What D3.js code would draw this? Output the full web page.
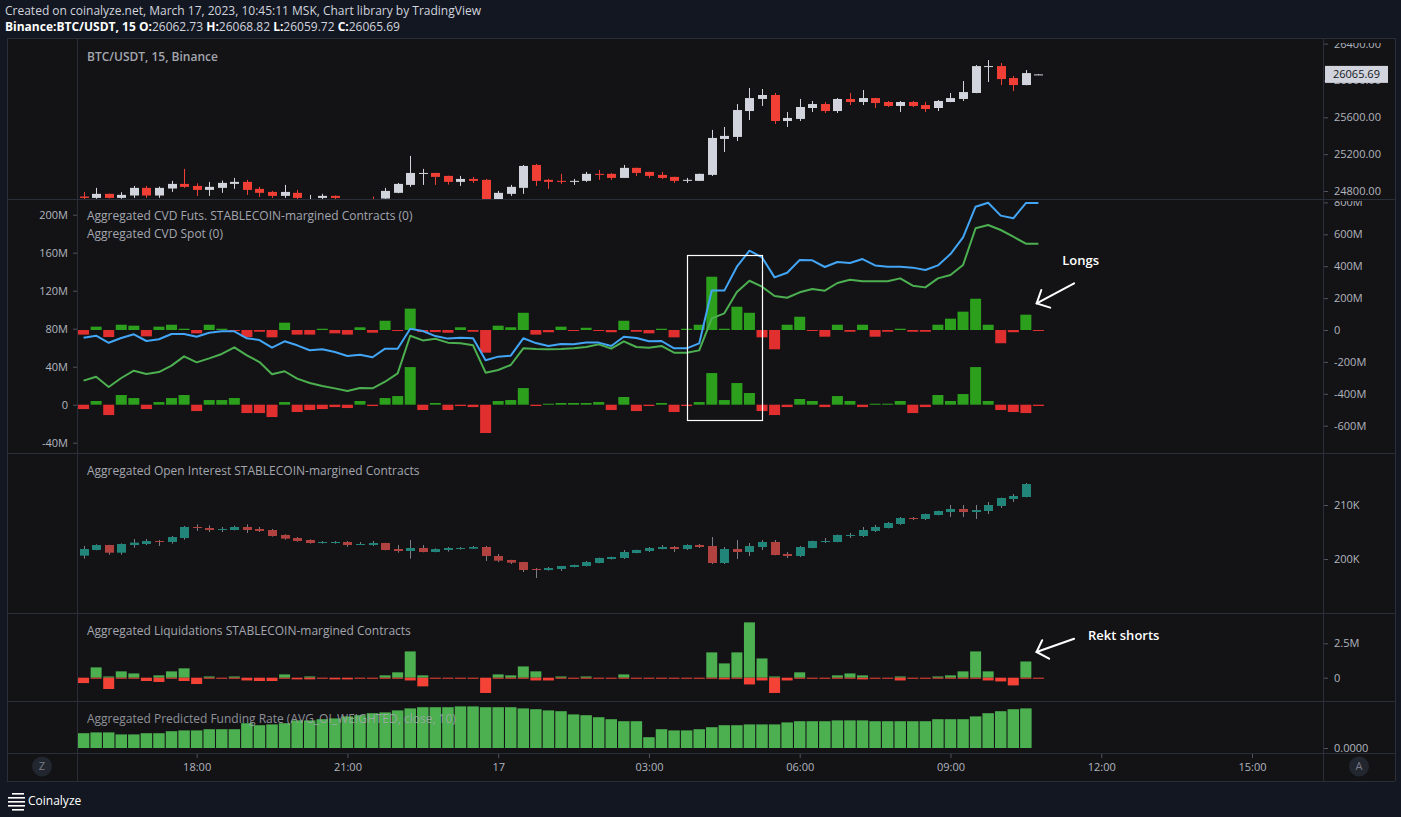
<!DOCTYPE html>
<html><head><meta charset="utf-8">
<script src="https://cdn.jsdelivr.net/npm/d3@7/dist/d3.min.js"></script>
<style>
html,body{margin:0;padding:0;background:#131722;overflow:hidden}
svg{display:block}
text{font-family:"Open Sans","Noto Sans",sans-serif}
</style></head><body>
<svg id="chart" width="1401" height="817"></svg>
<script>
// ---------- categories (15-minute bars, MSK shown as UTC) ----------
const START = Date.UTC(2023, 2, 16, 15, 45);
const STEP = 15 * 60 * 1000;
const times = d3.range(77).map(i => new Date(START + i * STEP));
const timeTicks = [
  Date.UTC(2023,2,16,18), Date.UTC(2023,2,16,21), Date.UTC(2023,2,17,0), Date.UTC(2023,2,17,3),
  Date.UTC(2023,2,17,6), Date.UTC(2023,2,17,9), Date.UTC(2023,2,17,12), Date.UTC(2023,2,17,15)
].map(d => new Date(d));
const timeTickLabels = ["18:00", "21:00", "17", "03:00", "06:00", "09:00", "12:00", "15:00"];

// ---------- BTC/USDT price candles ----------
const priceOpen = [24740,24725,24769,24725,24751,24834,24751,24827,24877,24855,24812,24834,24877,24899,24823,24790,24747,24780,24700,24725,24747,24712,24695,24712,24718,24780,24866,24989,24996,24964,24899,24931,24921,24705,24769,24834,25083,24921,24910,24899,24910,24986,24986,24942,25051,25007,24975,24953,24910,24910,24975,25365,25387,25668,25799,25842,25560,25582,25701,25744,25668,25799,25766,25809,25766,25723,25766,25733,25701,25766,25799,25864,26149,26156,26026,25950,26062.73];
const priceHigh = [24790,24834,24771,24787,24855,24855,24848,24910,25040,24884,24899,24913,24942,24921,24845,24801,24866,24812,24758,24769,24751,24714,24710,24740,24834,24888,25181,25040,24998,24966,24964,24953,24931,24801,24866,25083,25094,24931,24986,24931,25007,25029,24996,25083,25053,25009,25007,24955,24942,24988,25463,25495,25744,25918,25907,25864,25658,25799,25777,25766,25809,25864,25896,25811,25777,25777,25777,25766,25788,25864,25994,26167,26221,26189,26048,26113,26068.82];
const priceLow = [24707,24715,24718,24715,24725,24725,24725,24790,24834,24747,24747,24780,24823,24758,24736,24725,24725,24704,24690,24711,24711,24680,24675,24685,24712,24776,24845,24866,24866,24870,24855,24888,24680,24700,24747,24769,24855,24823,24877,24866,24899,24921,24921,24942,24964,24942,24931,24888,24888,24908,24964,25224,25343,25571,25723,25528,25495,25560,25658,25647,25647,25733,25733,25701,25712,25658,25712,25658,25668,25764,25777,25862,25983,25950,25885,25948,26059.72];
const priceClose = [24725,24769,24725,24758,24834,24751,24834,24877,24845,24812,24845,24888,24899,24812,24780,24747,24790,24725,24712,24747,24725,24695,24700,24698,24801,24877,24996,24996,24953,24899,24931,24910,24705,24780,24845,25072,24910,24899,24899,24910,24986,24975,24942,25051,24996,24964,24942,24910,24921,24986,25376,25398,25679,25809,25842,25560,25593,25712,25744,25668,25799,25766,25809,25755,25723,25766,25723,25690,25777,25809,25874,26156,26156,26015,25950,26080,26065.69];
const priceTicks = [24800, 25200, 25600, 26000, 26400];
const lastPrice = 26065.69;

// ---------- CVD (millions) ----------
const futDelta = [-29,21,-44,33,27,-40,21,33,8,-21,33,8,-6,-44,-11,-46,46,-29,-29,8,-21,-29,17,-17,58,-4,134,-13,-13,-17,17,-11,-142,27,17,108,-29,-14,21,-4,14,-4,-14,58,-11,-21,8,-46,8,33,334,8,146,108,-46,-121,33,83,-4,-42,33,-11,33,-42,-11,8,-11,-11,33,71,115,196,33,-83,-14,96,-4];
const spotDelta = [-4.6,3.9,-10.9,10.2,7,-4.6,2.8,7,10.2,-6.7,4.9,4.9,7,-8.8,-8.8,-13,2.8,-7.7,-5.6,-4.6,-2.5,-3.5,3.9,-1.4,7,9.1,39.6,-5.6,1.8,-5.6,-1.4,-2.5,-29.8,3.9,4.9,17.5,-1.4,0.7,1.8,1.8,1.8,2.8,-5.6,8.1,-6.7,-1.4,1.8,-7.7,-1.4,2.8,33.3,4.9,22.8,12.3,-6.7,-10.9,-2.5,6,3.9,-2.5,9.1,3.9,-2.5,0.7,0.7,3.9,-8.8,-2.5,10.2,3.9,11.2,39.6,3.9,-5.6,-7.7,-8.8,-1.4];
const futCVD = [-48,-36,-80,-50,-27,-69,-58,-25,-25,-42,-17,-8,-8,-52,-63,-111,-71,-96,-127,-121,-138,-163,-155,-171,-117,-117,8,-6,-38,-54,-48,-52,-190,-167,-161,-52,-82,-100,-88,-90,-79,-79,-100,-42,-50,-71,-69,-115,-115,-84,247,247,397,497,456,330,359,439,437,395,426,420,445,405,397,397,391,376,405,476,581,773,798,717,700,796,796];
const spotCVD = [25.3,29.5,18.6,28.1,35.8,32.3,34.4,41.1,50.9,44.6,48.8,53.4,60.4,52,44.9,32,35.2,27.4,22.8,19.7,17.2,14.4,17.6,17.2,24.2,33,72.6,67.7,69.5,65.3,64.6,62.5,33.7,36.5,41.8,59.3,58.6,58.3,58.6,59.3,60.7,63.5,59,66.7,60.7,60,61.8,54.7,54.7,57.2,90.9,96.2,118.6,130.5,124.2,114.4,112.6,118.3,121.8,120,128.1,131.6,129.9,129.9,129.9,133,125.3,123.5,133,136.5,147,185.7,189.2,183.9,176.8,169.5,169.5];
const cvdRightTicks = [-600,-400,-200,0,200,400,600,800];
const cvdLeftTicks = [-40,0,40,80,120,160,200];

// ---------- Open interest (thousands) ----------
const oiOpen = [200.62,201.67,202.59,201.17,202.59,202.78,203.33,203.15,203.89,205.93,205.74,205.37,205.37,205.93,205.56,205.37,204.45,203.89,203.52,202.96,202.96,203.15,202.66,202.59,202.96,201.85,201.48,202.04,201.30,201.67,201.85,201.91,202.22,200.56,199.82,199.44,198.15,197.96,198.15,198.52,198.70,199.26,200.00,200.19,201.11,201.48,201.85,202.22,201.85,202.59,202.41,199.26,201.85,201.30,202.22,203.15,200.93,200.56,202.04,203.15,203.15,204.26,204.26,205.19,205.74,206.48,207.59,207.41,208.15,208.70,209.26,208.70,208.89,209.82,211.11,211.48];
const oiHigh = [202.41,202.72,202.62,202.90,203.70,203.70,203.52,204.26,206.11,206.42,206.24,205.93,206.17,206.42,205.93,205.56,204.57,204.07,203.64,203.33,203.33,203.33,203.15,203.33,203.00,202.59,203.52,202.59,201.98,202.22,202.22,202.41,202.41,200.93,199.85,199.47,198.33,198.52,198.72,198.95,199.63,200.25,200.43,201.67,201.73,202.22,202.59,202.41,202.72,202.78,204.07,202.22,203.52,202.96,203.52,203.52,201.30,202.41,203.40,203.89,204.51,204.82,205.93,206.30,206.85,207.78,207.78,208.40,208.95,210.00,210.00,210.00,210.56,211.36,212.04,214.07];
const oiLow = [200.06,201.61,200.80,200.80,202.10,202.59,202.41,202.84,203.58,205.19,205.00,205.00,205.31,204.82,205.00,204.14,203.58,203.21,202.84,202.84,202.84,202.28,202.59,202.41,201.61,201.17,200.06,201.24,201.24,201.36,201.73,201.85,199.63,199.44,199.07,197.59,196.48,197.84,197.78,198.46,198.64,199.20,199.88,200.00,201.05,201.30,201.79,201.30,201.67,202.04,199.07,199.07,200.00,200.56,201.67,200.68,200.19,200.37,201.98,202.96,203.09,203.89,204.07,205.00,205.68,206.30,207.22,207.22,208.09,207.78,207.78,207.41,208.33,209.45,210.56,211.42];
const oiClose = [201.85,202.59,201.17,202.78,203.03,203.33,203.15,204.07,205.93,205.74,205.37,205.56,205.93,205.37,205.19,204.26,203.77,203.33,202.96,203.15,203.15,202.59,202.78,202.96,201.67,201.48,202.04,201.30,201.85,202.04,202.04,202.22,200.56,199.69,199.32,197.96,197.96,198.33,198.70,198.89,199.44,200.19,200.37,201.30,201.67,202.04,202.22,201.85,202.59,202.22,199.26,201.85,201.30,202.41,203.15,200.74,200.56,202.22,203.33,203.33,204.45,204.45,205.37,205.93,206.67,207.59,207.47,208.33,208.89,209.26,208.70,209.07,210.00,211.30,211.67,213.89];
const oiTicks = [200, 210];

// ---------- Liquidations (millions) ----------
const shortLiq = [0,0.75,0.09,0.46,0.31,0,0.17,0.46,0.68,0,0.09,0,0.09,0,0,0,0.24,0,0.09,0,0,0,0,0,0.17,0.39,1.91,0.17,0,0,0,0,0,0.24,0.17,0.82,0.46,0,0.09,0,0.09,0,0,0.24,0,0,0,0,0,0,1.84,1.04,1.84,4.02,1.40,0.09,0,0.39,0,0,0.17,0.31,0.17,0,0,0.09,0,0,0.09,0.17,0.46,1.91,0.46,0,0,1.18,0];
const longLiq = [0.39,0.05,0.82,0.05,0.05,0.24,0.31,0.05,0.24,0.46,0.05,0.05,0.05,0.2,0.24,0.24,0.05,0.12,0.12,0.05,0.12,0.12,0.05,0.05,0.05,0.05,0.2,0.63,0.05,0.05,0.05,0.05,1.11,0.05,0.05,0.05,0.2,0.2,0.05,0.05,0.05,0.05,0.05,0.05,0.05,0.05,0.05,0.05,0.05,0.05,0.05,0.12,0.05,0.49,0.2,1.11,0.2,0.05,0.05,0.05,0.05,0.05,0.12,0.05,0.05,0.2,0.05,0.05,0.05,0.05,0.05,0.05,0.2,0.27,0.56,0.05,0.05];
const liqTicks = [0, 2.5];

// ---------- Predicted funding rate (%) ----------
const funding = [0.0037,0.0039,0.0039,0.0034,0.0034,0.0037,0.0037,0.0042,0.0044,0.0044,0.0047,0.0047,0.0047,0.0062,0.0057,0.0059,0.0062,0.0069,0.0069,0.0072,0.0074,0.0079,0.0082,0.0087,0.0089,0.0094,0.0099,0.0102,0.0102,0.0102,0.0104,0.0104,0.0102,0.0102,0.0102,0.0099,0.0097,0.0094,0.0092,0.0084,0.0082,0.0077,0.0072,0.0067,0.0067,0.0027,0.0047,0.0044,0.0044,0.0047,0.0052,0.0057,0.0057,0.0059,0.0059,0.0059,0.0064,0.0067,0.0067,0.0067,0.0069,0.0069,0.0069,0.0067,0.0067,0.0067,0.0067,0.0067,0.0072,0.0072,0.0072,0.0079,0.0087,0.0092,0.0097,0.0099];
const fundTicks = [0];

// ---------- annotations (in data terms) ----------
const boxAnnot = {from: 48, to: 54, top: 470, bottom: -564};           // right CVD axis (M)
const longsArrow = {tail: [78.84, 293], tip: [75.86, 167], h1: [76.23, 251], h2: [76.94, 140], label: [77.9, 439]};
const rektArrow = {tail: [78.84, 2.83], tip: [75.85, 1.87], h1: [76.3, 2.72], h2: [76.85, 1.38], label: [79.95, 3.1]};

// ================= drawing =================
const W = 1401, H = 817, X0 = 77, X1 = 1323, FL = 7, FR = 1395;
const P = {price: [38, 199], cvd: [199, 453], oi: [453, 613], liq: [613, 701], fund: [701, 753], time: [753, 781]};
const svg = d3.select("#chart");
const defs = svg.append("defs");
const FONT = '"Open Sans","Noto Sans",sans-serif';
const AXIS_C = "#b2b5be", TITLE_C = "#a3a6ae", BORDER = "#2a2e39";

const x = d3.scaleUtc()
  .domain([new Date(Date.UTC(2023,2,16,15,37,9)), new Date(Date.UTC(2023,2,17,16,24,46))])
  .range([X0, X1]);
const xi = i => x(new Date(START + i * STEP));

const yPrice = d3.scaleLinear().domain([24800, 25600]).range([191, 117.3]);
const yCvdR = d3.scaleLinear().domain([0, 800]).range([330, 202.4]);
const yCvdL = d3.scaleLinear().domain([0, 200]).range([404.7, 214.7]);
const yOi = d3.scaleLinear().domain([200, 210]).range([559, 505]);
const yLiq = d3.scaleLinear().domain([0, 2.5]).range([677.7, 643.3]);
const yFund = d3.scaleLinear().domain([0, 0.01]).range([748, 708]);

let clipN = 0;
function clip(x0, y0, x1, y1) {
  const id = "clip" + (clipN++);
  defs.append("clipPath").attr("id", id).append("rect")
    .attr("x", x0).attr("y", y0).attr("width", x1 - x0).attr("height", y1 - y0);
  return `url(#${id})`;
}

// background & frame
svg.append("rect").attr("width", W).attr("height", H).attr("fill", "#131722");
svg.append("rect").attr("x", FL).attr("y", P.price[0]).attr("width", FR - FL).attr("height", P.time[1] - P.price[0])
  .attr("fill", "#131316");

// header
const hdr = svg.append("g").attr("font-family", FONT).attr("font-size", 12).attr("fill", "#d1d4dc");
hdr.append("text").attr("x", 5).attr("y", 15).text("Created on coinalyze.net, March 17, 2023, 10:45:11 MSK, Chart library by TradingView");
const h2 = hdr.append("text").attr("x", 5).attr("y", 31);
[["Binance:BTC/USDT, 15 O:", true], [priceOpen[76].toFixed(2) + " ", false], ["H:", true], [priceHigh[76].toFixed(2) + " ", false],
 ["L:", true], [priceLow[76].toFixed(2) + " ", false], ["C:", true], [priceClose[76].toFixed(2), false]]
  .forEach(([t, b]) => h2.append("tspan").attr("font-weight", b ? 700 : 400).attr("fill", b ? "#ffffff" : "#d1d4dc").text(t));

// candles helper
function drawCandles(g, n, o, h, l, c, y, upC, dnC, wickUp, wickDn, bw) {
  const d = d3.range(n).map(i => ({i, o: o[i], h: h[i], l: l[i], c: c[i], up: c[i] >= o[i]}));
  g.selectAll("line.w").data(d).join("line").attr("class", "w")
    .attr("x1", e => Math.round(xi(e.i)) + 0.5).attr("x2", e => Math.round(xi(e.i)) + 0.5)
    .attr("y1", e => y(e.h)).attr("y2", e => y(e.l))
    .attr("stroke", e => e.up ? wickUp : wickDn).attr("stroke-width", 1);
  g.selectAll("rect.b").data(d).join("rect").attr("class", "b")
    .attr("x", e => Math.round(xi(e.i)) + 0.5 - bw / 2).attr("width", bw)
    .attr("y", e => y(Math.max(e.o, e.c)))
    .attr("height", e => Math.max(1, Math.abs(y(e.o) - y(e.c))))
    .attr("fill", e => e.up ? upC : dnC);
}
function drawBars(g, vals, y, posC, negC, bw, minH = 1) {
  g.selectAll(null).data(vals.map((v, i) => ({v, i}))).join("rect")
    .attr("x", e => xi(e.i) - bw / 2).attr("width", bw)
    .attr("y", e => e.v >= 0 ? Math.min(y(e.v), y(0) - minH) : y(0))
    .attr("height", e => Math.max(minH, Math.abs(y(e.v) - y(0))))
    .attr("fill", e => e.v >= 0 ? posC : negC);
}

// ---- price panel
const gPrice = svg.append("g").attr("clip-path", clip(X0, P.price[0], X1, P.price[1]));
drawCandles(gPrice, 77, priceOpen, priceHigh, priceLow, priceClose, yPrice, "#d1d4dc", "#f23f35", "#d1d4dc", "#f23f35", 9);

// ---- CVD panel
const gCvd = svg.append("g").attr("clip-path", clip(X0, P.cvd[0], X1, P.cvd[1]));
drawBars(gCvd.append("g"), futDelta, yCvdR, "#2c9f1d", "#e02f2e", 11);
drawBars(gCvd.append("g"), spotDelta, yCvdL, "#2c9f1d", "#e02f2e", 11);
gCvd.append("path").datum(spotCVD).attr("fill", "none").attr("stroke", "#4caf50").attr("stroke-width", 2)
  .attr("stroke-linejoin", "round").attr("d", d3.line().x((v, i) => xi(i)).y(v => yCvdL(v)));
gCvd.append("path").datum(futCVD).attr("fill", "none").attr("stroke", "#42a5f5").attr("stroke-width", 2)
  .attr("stroke-linejoin", "round").attr("d", d3.line().x((v, i) => xi(i)).y(v => yCvdR(v)));
// annotation box
gCvd.append("rect").attr("x", Math.round(xi(boxAnnot.from)) + 0.5).attr("y", Math.round(yCvdR(boxAnnot.top)) + 0.5)
  .attr("width", Math.round(xi(boxAnnot.to) - xi(boxAnnot.from)))
  .attr("height", Math.round(yCvdR(boxAnnot.bottom) - yCvdR(boxAnnot.top)))
  .attr("fill", "none").attr("stroke", "#ffffff").attr("stroke-width", 1.2);

// ---- OI panel
const gOi = svg.append("g").attr("clip-path", clip(X0, P.oi[0], X1, P.oi[1]));
drawCandles(gOi, oiOpen.length, oiOpen, oiHigh, oiLow, oiClose, yOi, "#21857a", "#b2423f", "#7c7f86", "#7c7f86", 9);

// ---- Liquidations panel
const gLiq = svg.append("g").attr("clip-path", clip(X0, P.liq[0], X1, P.liq[1]));
drawBars(gLiq.append("g"), shortLiq.map(v => v), yLiq, "#4caf50", "#f44336", 11, 0);
drawBars(gLiq.append("g"), longLiq.map(v => -v), yLiq, "#4caf50", "#f44336", 11, 1);

// ---- Funding panel
const gFund = svg.append("g").attr("clip-path", clip(X0, P.fund[0], X1, P.fund[1]));
drawBars(gFund, funding, yFund, "#4caf50", "#f44336", 11.5);

// ---- frame lines
const fr = svg.append("g").attr("stroke", BORDER).attr("stroke-width", 1).attr("shape-rendering", "crispEdges");
[P.price[0], P.cvd[0], P.oi[0], P.liq[0], P.fund[0], P.time[0], P.time[1]].forEach(yv =>
  fr.append("line").attr("x1", FL).attr("x2", FR).attr("y1", yv + 0.5).attr("y2", yv + 0.5));
[FL, X0, X1, FR].forEach(xv =>
  fr.append("line").attr("x1", xv + 0.5).attr("x2", xv + 0.5).attr("y1", P.price[0]).attr("y2", P.time[1]));

// ---- axes
function styleAxis(g) {
  g.select(".domain").remove();
  g.attr("font-family", FONT).attr("font-size", 11);
  g.selectAll(".tick line").attr("stroke", "#50535e");
  g.selectAll(".tick text").attr("fill", AXIS_C);
}
function rightAxis(scale, ticks, fmt, band, topCut = 1) {
  const g = svg.append("g").attr("clip-path", clip(X1 + 1, band[0] + topCut, FR, band[1])).append("g")
    .attr("transform", `translate(${X1 + 1},0)`);
  g.call(d3.axisRight(scale).tickValues(ticks).tickFormat(fmt).tickSize(4).tickPadding(6));
  styleAxis(g);
}
const fmtM = v => v === 0 ? "0" : v + "M";
rightAxis(yPrice, priceTicks, v => v.toFixed(2), P.price, 5);
rightAxis(yCvdR, cvdRightTicks, fmtM, P.cvd, 2);
rightAxis(yOi, oiTicks, v => v + "K", P.oi);
rightAxis(yLiq, liqTicks, fmtM, P.liq);
rightAxis(yFund, fundTicks, v => v.toFixed(4), P.fund);
{
  const g = svg.append("g").attr("clip-path", clip(FL, P.cvd[0] + 1, X0, P.cvd[1])).append("g")
    .attr("transform", `translate(${X0},0)`);
  g.call(d3.axisLeft(yCvdL).tickValues(cvdLeftTicks).tickFormat(fmtM).tickSize(4).tickPadding(5));
  styleAxis(g);
}
{
  const g = svg.append("g").attr("transform", `translate(0,${P.time[0] + 1})`);
  g.call(d3.axisBottom(x).tickValues(timeTicks).tickFormat((d, i) => timeTickLabels[i]).tickSize(4).tickPadding(5));
  styleAxis(g);
}

// last price label
svg.append("rect").attr("x", X1 + 2).attr("y", yPrice(lastPrice) - 8.5).attr("width", 63).attr("height", 17)
  .attr("fill", "#d1d4dc");
svg.append("text").attr("x", X1 + 10).attr("y", yPrice(lastPrice)).attr("dy", "0.35em")
  .attr("font-family", FONT).attr("font-size", 11).attr("fill", "#131722").text(lastPrice.toFixed(2));

// ---- titles
const tt = svg.append("g").attr("font-family", FONT).attr("font-size", 12).attr("fill", TITLE_C);
tt.append("text").attr("x", 87).attr("y", 61).attr("font-weight", 600).text("BTC/USDT, 15, Binance");
tt.append("text").attr("x", 87).attr("y", 220).text("Aggregated CVD Futs. STABLECOIN-margined Contracts (0)");
tt.append("text").attr("x", 87).attr("y", 238).text("Aggregated CVD Spot (0)");
tt.append("text").attr("x", 87).attr("y", 475).text("Aggregated Open Interest STABLECOIN-margined Contracts");
tt.append("text").attr("x", 87).attr("y", 635).text("Aggregated Liquidations STABLECOIN-margined Contracts");
tt.append("text").attr("x", 87).attr("y", 723).attr("opacity", 0.85).text("Aggregated Predicted Funding Rate (AVG_OI_WEIGHTED, close, 10)");

// ---- hand-drawn annotations
function arrow(a, y) {
  const g = svg.append("g").attr("stroke", "#ffffff").attr("stroke-width", 2).attr("stroke-linecap", "round").attr("fill", "none");
  g.append("line").attr("x1", xi(a.tail[0])).attr("y1", y(a.tail[1])).attr("x2", xi(a.tip[0])).attr("y2", y(a.tip[1]));
  g.append("path").attr("d", `M${xi(a.h1[0])},${y(a.h1[1])}L${xi(a.tip[0])},${y(a.tip[1])}L${xi(a.h2[0])},${y(a.h2[1])}`);
}
arrow(longsArrow, yCvdR);
arrow(rektArrow, yLiq);
svg.append("text").attr("x", xi(longsArrow.label[0])).attr("y", yCvdR(longsArrow.label[1])).attr("dy", "0.35em")
  .attr("font-family", FONT).attr("font-size", 13).attr("font-weight", 600).attr("fill", "#ffffff").text("Longs");
svg.append("text").attr("x", xi(rektArrow.label[0])).attr("y", yLiq(rektArrow.label[1])).attr("dy", "0.35em")
  .attr("font-family", FONT).attr("font-size", 13).attr("font-weight", 600).attr("fill", "#ffffff").text("Rekt shorts");

// ---- Z / A buttons
[[42, "Z"], [1359, "A"]].forEach(([cx, t]) => {
  svg.append("ellipse").attr("cx", cx).attr("cy", 766.5).attr("rx", 10).attr("ry", 10).attr("fill", "#22262f");
  svg.append("text").attr("x", cx).attr("y", 766.5).attr("dy", "0.35em").attr("text-anchor", "middle")
    .attr("font-family", FONT).attr("font-size", 11).attr("fill", "#787b86").text(t);
});

// ---- Coinalyze logo
const lg = svg.append("g").attr("fill", "#ffffff");
[[12, 793, 12], [8, 797, 17], [8, 801, 17], [8, 805, 17], [12, 809, 12]].forEach(([lx, ly, lw]) =>
  lg.append("rect").attr("x", lx).attr("y", ly).attr("width", lw).attr("height", 1.6));
svg.append("text").attr("x", 28).attr("y", 805).attr("font-family", FONT).attr("font-size", 12)
  .attr("fill", "#ffffff").text("Coinalyze");
</script></body></html>
